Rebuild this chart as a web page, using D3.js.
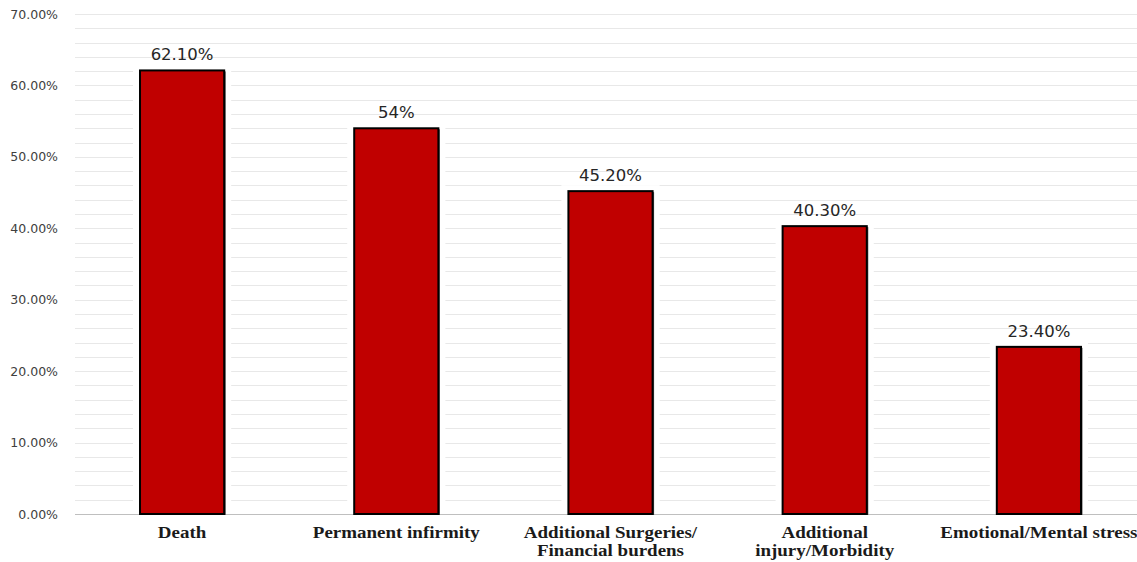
<!DOCTYPE html>
<html>
<head>
<meta charset="utf-8">
<script src="https://cdn.jsdelivr.net/npm/d3@7"></script>
<style>
  body { margin: 0; background: #fff; overflow: hidden; }
  .yAxis text { font-family: "DejaVu Sans", Verdana, sans-serif; font-size: 12.5px; fill: #404040; }
  .valLabel { font-family: "DejaVu Sans", Verdana, sans-serif; font-size: 16.5px; fill: #262626; }
  .catLabel { font-family: "Liberation Serif", "Times New Roman", serif; font-size: 16.5px; font-weight: bold; fill: #1a1a1a; }
</style>
</head>
<body>
<div id="chart"></div>
<script>
var categories = ["Death", "Permanent infirmity", "Additional Surgeries/|Financial burdens", "Additional|injury/Morbidity", "Emotional/Mental stress"];
var values = [62.1, 54, 45.2, 40.3, 23.4];
var valueLabels = ["62.10%", "54%", "45.20%", "40.30%", "23.40%"];
var yTicks = [0, 10, 20, 30, 40, 50, 60, 70];

var width = 1137, height = 562;
var plotLeft = 75, plotRight = 1146, plotTop = 14, plotBottom = 514;

var svg = d3.select("#chart").append("svg")
	.attr("width", width)
	.attr("height", height);

var xScale = d3.scaleBand()
	.domain(categories)
	.range([plotLeft, plotRight])
	.paddingInner(0.607)
	.paddingOuter(0.3035);

var yScale = d3.scaleLinear()
	.domain([0, 70])
	.range([plotBottom, plotTop]);

// gridlines every 2%
svg.append("g")
	.selectAll("line")
	.data(d3.range(2, 71, 2))
	.enter().append("line")
	.attr("x1", plotLeft)
	.attr("x2", width)
	.attr("y1", function (d) { return Math.round(yScale(d)) + 0.5; })
	.attr("y2", function (d) { return Math.round(yScale(d)) + 0.5; })
	.attr("stroke", "#e8e8e8")
	.attr("stroke-width", 1);

// baseline
svg.append("line")
	.attr("x1", plotLeft)
	.attr("x2", width)
	.attr("y1", yScale(0) + 0.5)
	.attr("y2", yScale(0) + 0.5)
	.attr("stroke", "#bfbfbf")
	.attr("stroke-width", 1.2);

// y axis labels
var yAxis = svg.append("g")
	.attr("class", "axis yAxis")
	.attr("transform", "translate(" + (plotLeft - 14) + ",0)")
	.call(d3.axisLeft(yScale)
		.tickValues(yTicks)
		.tickSize(0)
		.tickFormat(function (d) { return d3.format(".2f")(d) + "%"; }));
yAxis.select(".domain").remove();

var data = categories.map(function (c, i) { return { cat: c, value: values[i], label: valueLabels[i] }; });

// white halo that breaks the gridlines around each bar
svg.selectAll("rect.halo")
	.data(data)
	.enter().append("rect")
	.attr("class", "halo")
	.attr("x", function (d) { return xScale(d.cat) - 7; })
	.attr("y", function (d) { return yScale(d.value) - 6; })
	.attr("width", xScale.bandwidth() + 14)
	.attr("height", function (d) { return yScale(0) - yScale(d.value) + 5; })
	.attr("fill", "#fff");

// shadow
svg.selectAll("rect.shadow")
	.data(data)
	.enter().append("rect")
	.attr("class", "shadow")
	.attr("x", function (d) { return xScale(d.cat) + 1.5; })
	.attr("y", function (d) { return yScale(d.value) + 1; })
	.attr("width", xScale.bandwidth())
	.attr("height", function (d) { return yScale(0) - yScale(d.value); })
	.attr("fill", "#555");

svg.selectAll("rect.bar")
	.data(data)
	.enter().append("rect")
	.attr("class", "bar")
	.attr("x", function (d) { return xScale(d.cat); })
	.attr("y", function (d) { return yScale(d.value); })
	.attr("width", xScale.bandwidth())
	.attr("height", function (d) { return yScale(0) - yScale(d.value); })
	.attr("fill", "#c00000")
	.attr("stroke", "#000")
	.attr("stroke-width", 2);

svg.selectAll("text.valLabel")
	.data(data)
	.enter().append("text")
	.attr("class", "valLabel")
	.attr("x", function (d) { return xScale(d.cat) + xScale.bandwidth() / 2; })
	.attr("y", function (d) { return yScale(d.value) - 10; })
	.attr("text-anchor", "middle")
	.text(function (d) { return d.label; });

// category labels, slightly widened like the source
var catText = svg.selectAll("text.catLabel")
	.data(data)
	.enter().append("text")
	.attr("class", "catLabel")
	.attr("text-anchor", "middle")
	.attr("transform", function (d) {
		return "translate(" + (xScale(d.cat) + xScale.bandwidth() / 2) + "," + (plotBottom + 24) + ")scale(1.15,1)";
	});

catText.each(function (d) {
	var parts = d.cat.split("|");
	var t = d3.select(this);
	parts.forEach(function (p, i) {
		t.append("tspan")
			.attr("x", 0)
			.attr("dy", i === 0 ? 0 : 18)
			.text(p);
	});
});
</script>
</body>
</html>
